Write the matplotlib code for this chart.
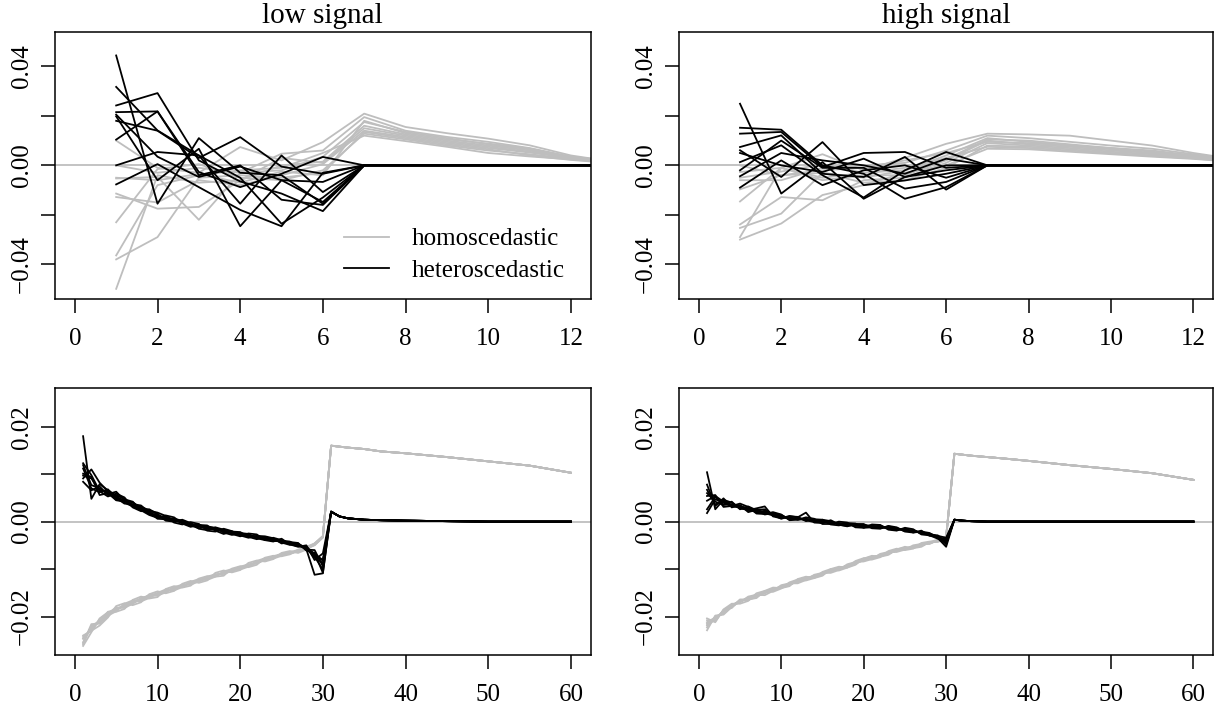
import numpy as np
import matplotlib
matplotlib.use("Agg")
import matplotlib.pyplot as plt
from matplotlib.lines import Line2D

plt.rcParams['font.family'] = ['Liberation Serif', 'DejaVu Serif']
plt.rcParams['lines.linewidth'] = 1.3

GRAY = '#bebebe'
BLACK = 'black'
K = 1e-3  # all values below are in units of 1e-3

# ---------------- top row: x = 1..13 ----------------
top_x = list(range(1, 14))
top_black_x = list(range(1, 8)) + [60]

# low signal, homoscedastic (gray)
tl_gray = [
    [10.0, -1.0, -3.0, 7.4, 2.0, 9.4, 20.9, 15.5, 13.0, 10.8, 8.1, 4.0, 1.5],
    [0.0, -3.0, -1.0, -3.0, 4.7, 6.0, 19.5, 14.0, 11.5, 9.5, 7.0, 3.5, 1.8],
    [-5.3, -4.7, -22.0, -3.0, -2.0, 3.5, 17.5, 13.5, 11.0, 8.5, 6.5, 3.2, 1.4],
    [-11.4, -17.5, -16.8, -6.0, 0.0, 1.5, 16.0, 12.5, 10.0, 8.0, 6.0, 3.0, 1.3],
    [-12.8, -15.0, -6.0, -8.0, -4.0, 0.5, 14.0, 11.5, 9.0, 7.0, 5.2, 3.0, 1.2],
    [-23.0, -1.5, 0.5, -5.0, -6.0, -2.0, 12.8, 10.5, 8.0, 6.0, 4.5, 2.6, 1.1],
    [-36.4, -8.0, -4.0, -2.0, -1.0, 5.0, 12.0, 9.8, 7.5, 5.0, 3.6, 2.4, 1.0],
    [-38.0, -29.0, -5.0, -4.0, -5.0, -3.0, 13.5, 11.0, 8.5, 6.5, 4.0, 2.2, 0.9],
    [-49.9, -4.0, -7.0, -6.0, 3.0, 1.0, 15.0, 12.0, 9.5, 7.5, 5.5, 2.8, 1.2],
    [-5.0, -6.0, -3.5, -7.0, -2.5, -4.0, 18.0, 13.0, 10.5, 8.8, 6.8, 3.4, 1.6],
]
# low signal, heteroscedastic (black), x = 1..7 then 60
tl_black = [
    [44.4, -15.5, 11.0, -3.0, -4.0, -15.5, 0, 0],
    [31.7, 14.1, 4.0, -5.0, -23.6, -13.0, 0, 0],
    [24.2, 29.2, 2.0, -6.5, -11.4, -18.5, 0, 0],
    [21.5, 21.8, -2.7, -8.8, -3.4, 3.4, 0, 0],
    [19.8, -6.0, 6.7, -24.6, -6.0, -6.7, 0, 0],
    [18.0, 14.0, 3.0, 11.4, -0.5, -3.4, 0, 0],
    [10.4, 21.8, -4.0, 0.0, -13.9, -16.0, 0, 0],
    [0.0, 5.4, 4.0, -15.5, 4.0, -10.8, 0, 0],
    [-7.7, 0.5, -8.8, -18.0, -24.6, -3.0, 0, 0],
    [20.5, 3.5, -4.7, -0.5, -6.0, -14.8, 0, 0],
]

# high signal, homoscedastic (gray)
tr_gray = [
    [-2.7, -1.0, 4.5, -2.0, 3.0, 8.7, 12.8, 12.5, 12.0, 10.0, 8.0, 5.0, 2.5],
    [-6.0, -6.0, -1.0, 0.0, 1.0, 6.0, 12.0, 11.0, 9.5, 8.0, 6.7, 4.5, 2.3],
    [-9.7, -4.0, -3.0, -5.0, -2.0, 4.0, 11.0, 9.5, 8.0, 7.0, 5.5, 4.0, 2.0],
    [-14.6, -1.0, -6.0, -4.0, -4.0, 2.0, 10.0, 8.5, 7.5, 6.0, 5.0, 3.5, 1.8],
    [-23.9, -12.8, -14.1, -6.0, -5.0, 1.0, 9.0, 8.0, 7.0, 5.5, 4.5, 3.2, 1.7],
    [-25.3, -19.5, -3.0, -7.0, -6.0, -1.0, 8.0, 7.5, 6.5, 5.0, 4.0, 3.0, 1.5],
    [-29.0, -1.0, -5.0, -3.0, -1.0, 3.0, 7.5, 7.0, 6.0, 4.8, 3.8, 2.8, 1.5],
    [-30.0, -23.5, -12.0, -8.0, -3.0, 0.0, 6.7, 6.5, 5.5, 4.5, 3.5, 2.6, 1.4],
    [0.0, -4.0, -2.0, -1.0, 2.0, 5.0, 9.5, 9.0, 8.0, 6.5, 5.0, 3.5, 1.8],
    [-5.0, -2.5, 0.5, -3.0, -2.0, 2.5, 10.5, 10.0, 8.5, 7.0, 6.0, 4.0, 2.0],
]
# high signal, heteroscedastic (black)
tr_black = [
    [24.9, -11.4, 1.3, -13.5, -4.7, -2.0, 0, 0],
    [15.2, 14.4, 0.0, -3.4, -13.5, -8.8, 0, 0],
    [12.8, 13.5, -0.7, 5.0, 5.4, -1.0, 0, 0],
    [7.4, 12.1, -3.4, -4.7, 3.4, -9.8, 0, 0],
    [6.1, -4.7, 9.4, -8.0, -6.1, -3.4, 0, 0],
    [1.3, 8.1, -4.0, -13.0, -2.0, 5.4, 0, 0],
    [-2.0, 10.0, -1.0, -1.0, -9.4, -6.7, 0, 0],
    [-4.4, 5.0, 2.0, 0.0, -3.4, 2.7, 0, 0],
    [-9.0, 2.0, -8.0, -2.0, 0.0, -5.0, 0, 0],
    [5.0, 0.0, -2.7, 2.7, -4.7, 0.0, 0, 0],
]

# ---------------- bottom row: x = 1..30, then tail ----------------
bot_head_x = list(range(1, 31))
bot_tail_x = [31, 32, 33, 35, 37, 40, 45, 50, 55, 60]

bl_gray_tail = [16.0, 15.8, 15.6, 15.3, 14.8, 14.4, 13.6, 12.7, 11.8, 10.3]
bl_black_tail = [2.1, 1.1, 0.7, 0.4, 0.3, 0.2, 0.1, 0.0, 0.0, 0.0]
br_gray_tail = [14.3, 14.1, 13.9, 13.6, 13.3, 12.8, 11.9, 11.1, 10.2, 8.8]
br_black_tail = [0.4, 0.2, 0.1, 0.0, 0.0, 0.0, 0.0, 0.0, 0.0, 0.0]

bl_gray = [
    [-26.2, -23.3, -20.4, -19.1, -19.0, -18.4, -16.5, -15.8, -16.2, -15.9, -14.2, -13.6, -13.9, -13.5, -12.0, -11.5, -11.6, -11.4, -9.9, -9.4, -9.6, -9.1, -7.6, -7.2, -7.3, -6.9, -5.9, -5.3, -4.6, -3.0],
    [-24.0, -23.0, -21.9, -20.2, -17.8, -17.2, -17.6, -17.0, -15.3, -14.7, -15.1, -14.6, -13.1, -12.5, -12.9, -12.4, -10.8, -10.3, -10.7, -10.2, -8.7, -8.2, -8.4, -7.9, -6.6, -6.2, -6.6, -5.9, -4.9, -3.4],
    [-25.6, -21.6, -21.5, -19.8, -18.9, -17.3, -16.6, -16.8, -16.1, -15.0, -14.3, -14.5, -13.8, -12.7, -12.1, -12.3, -11.6, -10.5, -10.0, -10.1, -9.5, -8.3, -7.7, -7.8, -7.2, -6.4, -6.0, -5.7, -4.6, -3.1],
    [-24.3, -22.9, -20.6, -19.3, -18.1, -18.2, -17.3, -16.1, -15.6, -15.6, -14.9, -13.8, -13.3, -13.3, -12.6, -11.6, -11.1, -11.0, -10.4, -9.5, -9.0, -8.8, -8.1, -7.3, -6.8, -6.8, -6.3, -5.4, -5.0, -3.3],
    [-25.4, -22.1, -21.2, -19.0, -18.6, -17.6, -16.8, -16.5, -15.4, -15.2, -14.5, -14.0, -13.6, -12.8, -12.4, -11.8, -11.2, -11.0, -10.1, -9.8, -9.2, -8.5, -8.2, -7.4, -7.1, -6.5, -6.3, -5.5, -4.7, -3.2],
    [-24.7, -22.7, -20.8, -19.9, -18.3, -17.9, -16.9, -16.2, -15.9, -15.1, -14.6, -14.2, -13.4, -13.1, -12.5, -12.0, -11.4, -10.7, -10.4, -9.7, -9.3, -8.6, -7.9, -7.6, -6.9, -6.7, -6.1, -5.7, -4.8, -3.2],
    [-25.9, -21.9, -21.0, -19.6, -18.4, -17.7, -17.2, -16.4, -15.7, -15.4, -14.7, -14.1, -13.5, -12.9, -12.6, -11.9, -11.3, -10.8, -10.3, -9.9, -9.2, -8.7, -8.0, -7.5, -7.0, -6.6, -6.2, -5.6, -4.8, -3.1],
    [-24.6, -22.5, -21.1, -19.4, -18.5, -17.8, -16.9, -16.4, -15.8, -15.3, -14.8, -14.1, -13.5, -13.0, -12.4, -11.9, -11.3, -10.8, -10.2, -9.8, -9.2, -8.6, -8.0, -7.5, -7.0, -6.6, -6.2, -5.6, -4.8, -3.2],
]
bl_black = [
    [18.0, 4.8, 7.9, 6.6, 5.5, 4.0, 3.2, 3.1, 2.4, 1.5, 0.2, 0.0, 0.4, -0.3, -1.5, -1.8, -1.2, -1.7, -2.6, -3.1, -2.5, -2.7, -3.9, -4.2, -3.6, -4.8, -5.3, -5.0, -8.1, -6.7],
    [12.3, 9.8, 6.4, 5.3, 5.9, 5.1, 3.0, 2.2, 2.3, 1.9, 1.2, -0.2, -0.6, -0.1, -0.5, -1.9, -2.1, -1.5, -2.0, -2.9, -3.4, -3.0, -3.1, -3.5, -4.6, -4.3, -4.5, -6.1, -6.6, -10.8],
    [9.1, 11.0, 8.2, 6.4, 4.6, 4.7, 4.2, 2.4, 1.4, 0.8, 1.3, 0.9, -0.4, -1.1, -0.7, -0.8, -1.9, -2.6, -2.1, -2.2, -3.2, -3.7, -3.3, -3.6, -4.4, -4.9, -4.6, -5.8, -11.2, -10.9],
    [11.2, 7.0, 6.2, 6.8, 5.0, 3.8, 3.7, 3.4, 2.0, 0.6, 0.5, 0.6, 0.2, -0.8, -1.4, -1.1, -1.3, -2.3, -2.8, -2.4, -2.6, -3.5, -3.9, -3.4, -3.9, -4.7, -5.2, -5.2, -7.2, -8.2],
    [8.4, 6.6, 7.4, 5.6, 5.6, 4.8, 3.1, 2.5, 2.6, 1.6, 0.4, 0.1, 0.0, -0.5, -1.1, -1.0, -1.4, -1.9, -2.4, -2.9, -2.8, -3.3, -3.6, -4.1, -4.0, -4.2, -5.1, -5.6, -7.6, -8.7],
    [10.1, 9.4, 5.6, 6.0, 4.5, 4.2, 4.1, 2.8, 1.6, 1.1, 1.0, 0.5, -0.3, -0.9, -0.6, -1.5, -1.7, -1.8, -2.1, -2.5, -3.1, -3.1, -3.4, -3.9, -4.3, -4.4, -4.8, -5.9, -6.0, -9.4],
    [11.9, 7.7, 7.0, 5.8, 6.3, 4.5, 3.6, 2.6, 2.1, 1.0, 0.8, 0.4, -0.1, -0.4, -0.9, -1.4, -1.5, -2.2, -2.3, -2.7, -2.9, -3.2, -3.6, -3.7, -4.2, -4.6, -4.8, -5.4, -6.8, -8.1],
    [9.7, 9.1, 6.6, 6.2, 5.2, 4.4, 3.4, 2.9, 1.8, 1.3, 0.6, 0.2, -0.2, -0.6, -1.0, -1.2, -1.6, -2.0, -2.2, -2.6, -3.0, -3.2, -3.5, -3.8, -4.1, -4.5, -4.9, -5.5, -7.4, -10.1],
]

br_gray = [
    [-22.9, -19.8, -19.6, -18.0, -16.4, -16.4, -16.1, -14.6, -13.9, -14.0, -13.6, -12.1, -11.6, -11.9, -11.4, -10.0, -9.5, -9.7, -9.1, -7.8, -7.2, -7.4, -7.0, -5.9, -5.3, -5.6, -5.3, -4.3, -3.8, -3.1],
    [-20.4, -21.2, -18.5, -17.3, -17.3, -16.7, -15.1, -14.6, -14.8, -14.1, -12.8, -12.2, -12.4, -11.9, -10.6, -10.0, -10.3, -9.7, -8.3, -7.7, -8.0, -7.5, -6.2, -5.7, -6.0, -5.7, -4.5, -4.2, -4.3, -3.4],
    [-22.3, -20.0, -19.4, -17.5, -17.0, -15.8, -15.4, -15.5, -14.6, -13.4, -13.0, -13.0, -12.3, -11.2, -10.8, -10.8, -10.2, -9.0, -8.5, -8.4, -7.9, -6.8, -6.4, -6.4, -5.9, -5.0, -4.7, -4.7, -3.9, -3.3],
    [-20.8, -21.0, -18.6, -18.2, -16.5, -16.5, -15.9, -14.7, -14.2, -14.0, -13.4, -12.3, -11.8, -11.8, -11.2, -10.1, -9.7, -9.6, -8.9, -7.8, -7.4, -7.3, -6.8, -5.8, -5.5, -5.5, -5.1, -4.3, -4.1, -3.4],
    [-21.9, -20.4, -18.8, -17.9, -16.9, -16.0, -15.7, -15.1, -14.2, -13.8, -13.2, -12.5, -12.1, -11.5, -10.9, -10.4, -9.8, -9.4, -8.6, -8.2, -7.5, -7.1, -6.7, -6.0, -5.8, -5.3, -4.8, -4.6, -4.0, -3.3],
    [-21.2, -20.2, -19.3, -17.6, -16.7, -16.4, -15.4, -14.9, -14.4, -13.6, -13.1, -12.8, -11.9, -11.4, -11.1, -10.3, -9.9, -9.2, -8.8, -8.0, -7.7, -7.0, -6.5, -6.2, -5.6, -5.4, -4.9, -4.4, -4.1, -3.3],
    [-21.6, -20.8, -18.8, -17.7, -16.9, -16.1, -15.6, -15.0, -14.3, -13.7, -13.3, -12.6, -12.0, -11.5, -11.0, -10.5, -9.9, -9.3, -8.7, -8.1, -7.6, -7.2, -6.6, -6.1, -5.7, -5.3, -4.9, -4.5, -4.0, -3.2],
    [-21.4, -20.5, -19.0, -17.8, -16.8, -16.2, -15.6, -15.0, -14.3, -13.7, -13.2, -12.6, -12.0, -11.5, -11.0, -10.4, -9.9, -9.3, -8.7, -8.1, -7.6, -7.1, -6.6, -6.1, -5.7, -5.3, -4.9, -4.5, -4.0, -3.3],
]
br_black = [
    [10.4, 2.6, 4.6, 4.0, 2.9, 2.4, 2.8, 3.2, 1.1, 0.7, 1.2, 0.9, 1.9, -0.2, -0.3, 0.3, -0.6, -1.0, -0.5, -0.5, -1.4, -1.5, -0.9, -1.2, -2.1, -2.3, -1.9, -3.0, -2.9, -4.8],
    [5.4, 5.6, 3.1, 3.3, 3.8, 3.1, 1.7, 1.6, 2.0, 1.5, 0.3, 0.4, 0.9, 0.6, -0.5, -0.5, 0.0, -0.2, -1.2, -1.3, -0.6, -0.7, -1.7, -1.9, -1.3, -1.6, -2.7, -2.9, -3.6, -3.6],
    [7.8, 3.3, 4.9, 3.0, 3.5, 2.0, 2.5, 2.6, 1.4, 0.6, 1.1, 1.0, 0.1, 0.5, 0.4, -0.6, -0.8, -0.3, -0.4, -1.3, -1.2, -0.8, -1.5, -1.8, -1.5, -2.3, -2.1, -2.4, -3.5, -5.3],
    [2.6, 5.2, 3.6, 4.2, 2.6, 3.2, 2.4, 1.5, 1.8, 1.4, 0.5, 0.8, 0.3, -0.1, 0.4, 0.1, -0.7, -0.9, -0.6, -0.7, -0.9, -1.4, -1.0, -1.4, -2.0, -1.8, -2.5, -2.6, -3.0, -3.4],
    [6.7, 3.6, 4.4, 3.4, 3.2, 2.8, 1.9, 2.3, 1.6, 0.9, 0.9, 0.4, 0.6, 0.3, -0.2, -0.1, -0.4, -0.7, -0.9, -0.8, -1.1, -1.2, -1.3, -1.6, -1.6, -2.1, -2.2, -2.8, -3.3, -4.4],
    [1.8, 4.7, 4.0, 3.2, 3.0, 2.6, 2.6, 1.8, 1.3, 1.2, 0.6, 0.7, 0.4, 0.1, 0.1, -0.3, -0.3, -0.5, -0.8, -1.0, -0.9, -1.0, -1.4, -1.4, -1.8, -1.9, -2.4, -2.6, -3.1, -4.1],
    [6.0, 4.2, 3.5, 3.7, 2.8, 2.5, 2.2, 2.1, 1.6, 0.9, 0.8, 0.5, 0.5, 0.3, 0.0, -0.2, -0.5, -0.6, -0.7, -0.9, -1.0, -1.2, -1.2, -1.5, -1.7, -2.0, -2.3, -2.7, -3.4, -4.6],
    [4.4, 5.4, 4.2, 3.5, 3.3, 2.7, 2.3, 1.9, 1.5, 1.1, 0.7, 0.6, 0.4, 0.2, 0.0, -0.2, -0.4, -0.6, -0.8, -0.9, -1.0, -1.1, -1.3, -1.5, -1.7, -2.0, -2.3, -2.7, -3.2, -3.9],
]

top_yticks = [-0.04, -0.02, 0.0, 0.02, 0.04]
top_ylabels = ['\u22120.04', '', '0.00', '', '0.04']
bot_yticks = [-0.02, -0.01, 0.0, 0.01, 0.02]
bot_ylabels = ['\u22120.02', '', '0.00', '', '0.02']
top_xticks = [0, 2, 4, 6, 8, 10, 12]
bot_xticks = [0, 10, 20, 30, 40, 50, 60]
titles = ['low signal', 'high signal']

FS = 18

fig = plt.figure(figsize=(12.14, 7.08), dpi=100)
ax_tl = fig.add_axes([0.0453, 0.5777, 0.4413, 0.3775])
ax_tr = fig.add_axes([0.5593, 0.5777, 0.4401, 0.3775])
ax_bl = fig.add_axes([0.0453, 0.0749, 0.4413, 0.3767])
ax_br = fig.add_axes([0.5593, 0.0749, 0.4401, 0.3767])


def style(ax, xlim, xticks, ylim, yticks, ylabels):
    ax.set_xlim(xlim)
    ax.set_ylim(ylim)
    ax.set_xticks(xticks)
    ax.set_xticklabels([str(t) for t in xticks])
    ax.set_yticks(yticks)
    ax.set_yticklabels(ylabels, rotation=90, va='center')
    ax.tick_params(direction='out', length=10, width=1.1, labelsize=FS)
    ax.tick_params(axis='x', pad=11)
    ax.tick_params(axis='y', pad=6)
    for s in ax.spines.values():
        s.set_linewidth(1.1)


# top row
for ax, grays, blacks, title in [(ax_tl, tl_gray, tl_black, titles[0]),
                                 (ax_tr, tr_gray, tr_black, titles[1])]:
    ax.axhline(0, color=GRAY, lw=1.3)
    for g in grays:
        ax.plot(top_x, np.array(g) * K, color=GRAY)
    for b in blacks:
        ax.plot(top_black_x, np.array(b) * K, color=BLACK)
    style(ax, (-0.48, 12.48), top_xticks, (-0.054, 0.054), top_yticks, top_ylabels)
    ax.set_title(title, fontsize=21, pad=6)

# bottom row
for ax, grays, blacks, gtail, btail in [(ax_bl, bl_gray, bl_black, bl_gray_tail, bl_black_tail),
                                        (ax_br, br_gray, br_black, br_gray_tail, br_black_tail)]:
    ax.axhline(0, color=GRAY, lw=1.3)
    bx = bot_head_x + bot_tail_x
    for g in grays:
        ax.plot(bx, np.array(g + gtail) * K, color=GRAY)
    for b in blacks:
        ax.plot(bx, np.array(b + btail) * K, color=BLACK)
    style(ax, (-2.4, 62.4), bot_xticks, (-0.0281, 0.0281), bot_yticks, bot_ylabels)

handles = [Line2D([], [], color=GRAY, lw=1.3), Line2D([], [], color=BLACK, lw=1.3)]
ax_tl.legend(handles, ['homoscedastic', 'heteroscedastic'], loc='upper left',
             bbox_to_anchor=(0.54, 0.266), frameon=False, fontsize=FS,
             handlelength=1.8, handletextpad=0.9, borderpad=0, borderaxespad=0,
             labelspacing=0.35)

fig.savefig('out.png', dpi=100)
